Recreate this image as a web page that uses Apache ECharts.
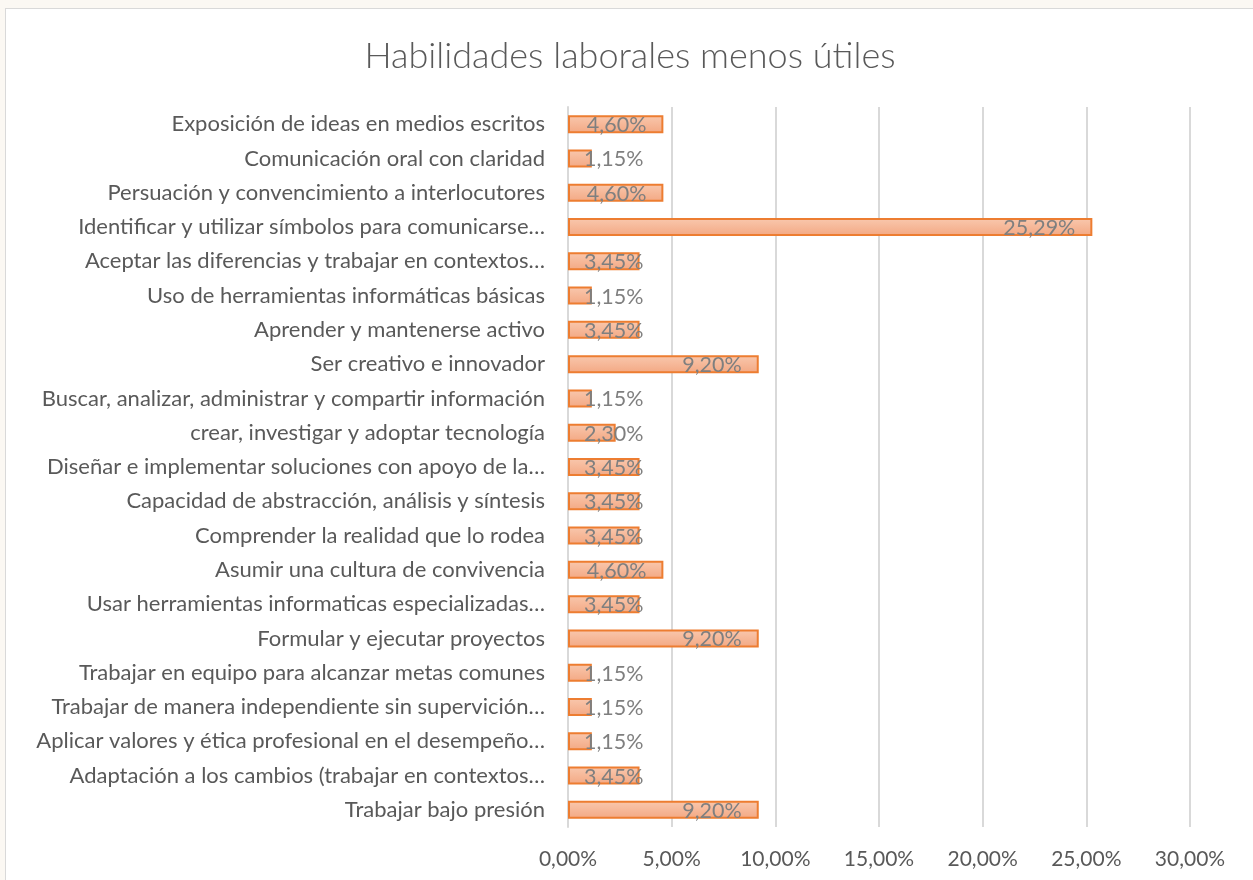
<!DOCTYPE html>
<html>
<head>
<meta charset="utf-8">
<title>Habilidades laborales menos útiles</title>
<script src="https://cdn.jsdelivr.net/npm/echarts@6/dist/echarts.min.js"></script>
<style>
  html, body { margin: 0; padding: 0; background: #fbf8f3; }
  #chart {
    position: absolute;
    left: 5px;
    top: 8px;
    width: 1248px;
    height: 872px;
    background: #ffffff;
    border-left: 1px solid #d9d9d9;
    border-top: 1px solid #d9d9d9;
  }
</style>
</head>
<body>
<div id="chart"></div>
<script>
// categorías, de arriba hacia abajo
const categories = [
  'Exposición de ideas en medios escritos',
  'Comunicación oral con claridad',
  'Persuación y convencimiento a interlocutores',
  'Identificar y utilizar símbolos para comunicarse…',
  'Aceptar las diferencias y trabajar en contextos…',
  'Uso de herramientas informáticas básicas',
  'Aprender y mantenerse activo',
  'Ser creativo e innovador',
  'Buscar, analizar, administrar y compartir información',
  'crear, investigar y adoptar tecnología',
  'Diseñar e implementar soluciones con apoyo de la…',
  'Capacidad de abstracción, análisis y síntesis',
  'Comprender la realidad que lo rodea',
  'Asumir una cultura de convivencia',
  'Usar herramientas informaticas especializadas…',
  'Formular y ejecutar proyectos',
  'Trabajar en equipo para alcanzar metas comunes',
  'Trabajar de manera independiente sin supervición…',
  'Aplicar valores y ética profesional en el desempeño…',
  'Adaptación a los cambios (trabajar en contextos…',
  'Trabajar bajo presión'
]

// porcentajes
const values = [4.60, 1.15, 4.60, 25.29, 3.45, 1.15, 3.45, 9.20, 1.15, 2.30, 3.45,
  3.45, 3.45, 4.60, 3.45, 9.20, 1.15, 1.15, 1.15, 3.45, 9.20]

const xTicks = { min: 0, max: 30, interval: 5 }

const fmt = (v, d) => v.toFixed(d).replace('.', ',') + '%'

const chart = echarts.init(document.getElementById('chart'))

const textColor = '#595959'
const font = 'Lato, "Open Sans", sans-serif'

chart.setOption({
  animation: false,
  textStyle: { fontFamily: font },
  title: {
    text: 'Habilidades laborales menos útiles',
    left: 'center',
    top: 24,
    textStyle: { color: textColor, fontSize: 36, fontWeight: 300, fontFamily: font }
  },
  grid: { left: 562, right: 64, top: 98, bottom: 54 },
  xAxis: {
    type: 'value',
    min: xTicks.min,
    max: xTicks.max,
    interval: xTicks.interval,
    axisLine: { show: false },
    axisTick: { show: false },
    splitLine: { lineStyle: { color: '#d9d9d9', width: 2 } },
    axisLabel: {
      color: textColor,
      fontSize: 21,
      margin: 22,
      formatter: v => fmt(v, 2)
    }
  },
  yAxis: {
    type: 'category',
    inverse: true,
    data: categories,
    axisLine: { show: true, lineStyle: { color: '#d9d9d9', width: 2 } },
    axisTick: { show: false },
    axisLabel: { color: textColor, fontSize: 22, margin: 23 }
  },
  series: [{
    type: 'bar',
    data: values,
    barWidth: 18,
    itemStyle: {
      color: new echarts.graphic.LinearGradient(0, 0, 0, 1, [
        { offset: 0, color: '#f9c8ae' },
        { offset: 1, color: '#f3a883' }
      ]),
      borderColor: '#ed7d31',
      borderWidth: 2
    },
    label: {
      show: true,
      position: 'insideRight',
      color: '#7f7f7f',
      fontSize: 21.5,
      formatter: p => fmt(p.value, 2)
    },
    // como Excel: extremo interior, pero sin salir por la izquierda de la barra
    labelLayout: p => {
      const end = p.rect.x + p.rect.width
      const right = Math.max(end - 17, p.rect.x + 16 + p.labelRect.width)
      return {
        x: right,
        y: p.rect.y + p.rect.height / 2 + 1,
        align: 'right',
        verticalAlign: 'middle'
      }
    }
  }]
})
</script>
</body>
</html>
